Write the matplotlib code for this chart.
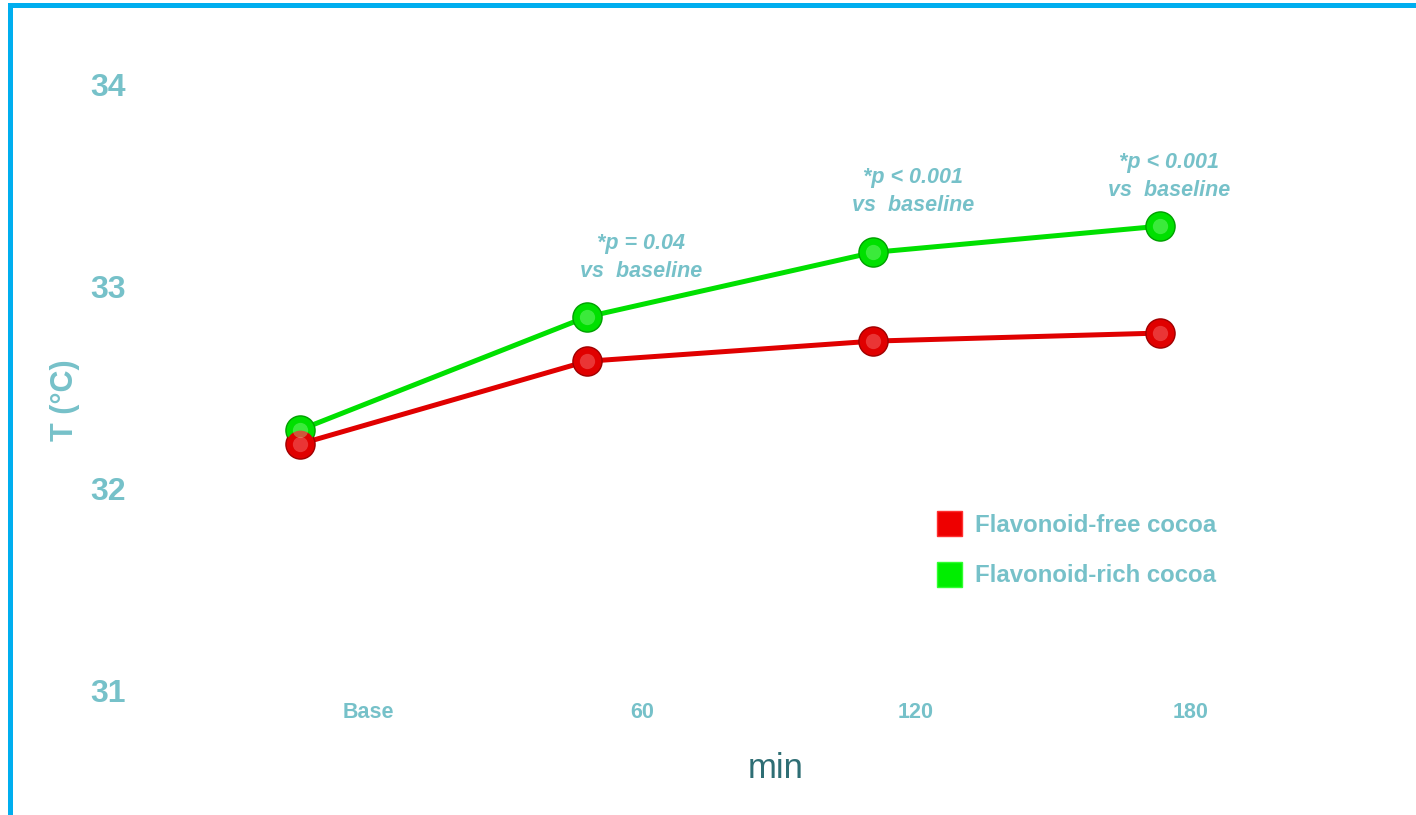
import numpy as np
import matplotlib.pyplot as plt
from matplotlib.lines import Line2D
from matplotlib.patches import Rectangle

# data
times = ['Base', '60', '120', '180']
free_cocoa = [32.22, 32.63, 32.73, 32.77]
rich_cocoa = [32.29, 32.85, 33.17, 33.30]
p_notes = ['', '*p = 0.04\nvs  baseline', '*p < 0.001\nvs  baseline', '*p < 0.001\nvs  baseline']
y_ticks = [31, 32, 33, 34]

teal = '#76C1C9'
plt.rcParams['font.family'] = ['Liberation Sans', 'DejaVu Sans']

W, H = 1416, 815
fig = plt.figure(figsize=(W / 100, H / 100), dpi=100)
# axes placed in pixel terms: x 140..1400, y 85..690
ax = fig.add_axes([140 / W, (H - 690) / H, 1260 / W, 605 / H])

x = np.arange(len(times))


def sphere_line(vals, base, dark, light):
    ax.plot(x, vals, color=base, lw=3.6, zorder=2, solid_capstyle='round')
    ax.plot(x, vals, 'o', ms=22, color=dark, mec='none', zorder=3)
    ax.plot(x, vals, 'o', ms=20, color=base, mec='none', zorder=4)
    ax.plot(x, vals, 'o', ms=11, color=light, mec='none', alpha=0.35, zorder=5)


sphere_line(rich_cocoa, '#00E000', '#00A000', '#AAFFAA')
sphere_line(free_cocoa, '#E00000', '#A00000', '#FF9999')

ax.set_xlim(-0.558, 3.837)
ax.set_ylim(31, 34)

# labels sit a little right of the points in the original
ax.set_xticks(np.arange(len(times)) * 0.956 + 0.237)
ax.set_xticklabels(times, fontsize=15.5, fontweight='bold', color=teal)
ax.set_yticks(y_ticks)
ax.set_yticklabels([str(t) for t in y_ticks], fontsize=23, fontweight='bold', color=teal)
ax.tick_params(axis='x', length=0, pad=9)
ax.tick_params(axis='y', length=0, pad=10)
for s in ax.spines.values():
    s.set_visible(False)

ax.set_ylabel('T (°C)', fontsize=22, fontweight='bold', color=teal)
ax.yaxis.set_label_coords(-(140 - 80) / 1260, (690 - 400) / 605)
ax.set_xlabel('min', fontsize=25, color='#2E6E74')
ax.xaxis.set_label_coords((776 - 140) / 1260, -(768 - 690) / 605)
ax.xaxis.label.set_va('center')

note_dx = [0, 0.19, 0.14, 0.03]
note_dy = [0, 25, 26, 18]
for i, note in enumerate(p_notes):
    if note:
        ax.annotate(note, (x[i] + note_dx[i], rich_cocoa[i]), xytext=(0, note_dy[i]),
                    textcoords='offset points', ha='center', va='bottom',
                    fontsize=15.5, fontweight='bold', style='italic', color=teal,
                    linespacing=1.45)

handles = [Line2D([], [], ls='none', marker='s', ms=18, color='#EE0000', mec='#FF3030'),
           Line2D([], [], ls='none', marker='s', ms=18, color='#00EE00', mec='#30FF30')]
leg = ax.legend(handles, ['Flavonoid-free cocoa', 'Flavonoid-rich cocoa'],
                loc='upper left', bbox_to_anchor=(913 / W, (H - 492) / H),
                bbox_transform=fig.transFigure, frameon=False,
                prop={'size': 17.3, 'weight': 'bold'}, labelcolor=teal,
                handletextpad=0.5, labelspacing=1.15, handlelength=1.2)

# blue frame on top and left
blue = '#00AEEF'
fig.add_artist(Rectangle((8 / W, (H - 8) / H), 1 - 8 / W, 5 / H,
                         transform=fig.transFigure, color=blue, lw=0))
fig.add_artist(Rectangle((8 / W, 0), 5 / W, (H - 3) / H,
                         transform=fig.transFigure, color=blue, lw=0))

fig.savefig('out.png', dpi=100)
